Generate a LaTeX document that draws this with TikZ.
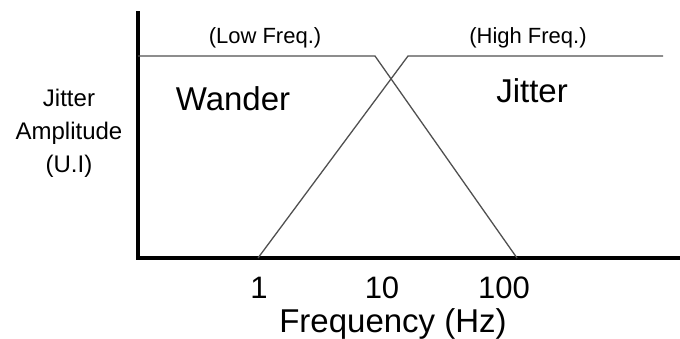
\documentclass[tikz,border=0pt]{standalone}
\usepackage{fontspec}
\setmainfont{Liberation Sans}
\usetikzlibrary{positioning}
\definecolor{curvegray}{RGB}{80, 80, 80}

\begin{document}
\begin{tikzpicture}[
      x=1pt, y=-1pt,
      axis/.style={line width=3.4pt, black, line cap=rect},
      curve/.style={line width=1.3pt, curvegray},
      tag/.style={font=\fontsize{22}{24}\selectfont, anchor=base, inner sep=0pt},
      big/.style={font=\fontsize{33}{36}\selectfont, anchor=base, inner sep=0pt},
      tick/.style={font=\fontsize{31}{34}\selectfont, anchor=base, inner sep=0pt}
    ]
      \useasboundingbox (0, 0) rectangle (680, 338);

      % axes
      \coordinate (top) at (138, 13);
      \coordinate (origin) at (138, 258);
      \coordinate (xend) at (682, 258);
      \draw[axis] (top) -- (origin) -- (xend);

      % wander and jitter bands
      \coordinate (W1) at (138, 56);
      \coordinate (W2) at (375, 56);
      \coordinate (W3) at (517, 258);
      \coordinate (J1) at (258, 258);
      \coordinate (J2) at (408, 56);
      \coordinate (J3) at (663, 56);
      \draw[curve] (W1) -- (W2) -- (W3);
      \draw[curve] (J1) -- (J2) -- (J3);

      \node[tag] (low) at (265, 43) {(Low Freq.)};
      \node[tag] (high) at (528, 43) {(High Freq.)};
      \node[big] (wander) at (233, 110) {Wander};
      \node[big] (jitter) at (532, 102) {Jitter};

      \node[tag, font=\fontsize{24}{26}\selectfont] (ylab1) at (69, 106) {Jitter};
      \node[tag, font=\fontsize{24}{26}\selectfont] (ylab2) at (69, 139) {Amplitude};
      \node[tag, font=\fontsize{24}{26}\selectfont] (ylab3) at (69, 172) {(U.I)};

      \node[tick] (t1) at (259, 298) {1};
      \node[tick] (t10) at (382, 298) {10};
      \node[tick] (t100) at (504, 298) {100};
      \node[big] (xlab) at (393, 332) {Frequency (Hz)};
    \end{tikzpicture}
\end{document}
